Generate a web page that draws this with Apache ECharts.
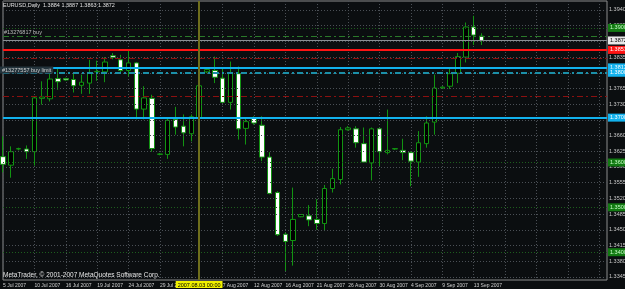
<!DOCTYPE html>
<html>
<head>
<meta charset="utf-8">
<title>EURUSD Daily</title>
<script src="https://cdn.jsdelivr.net/npm/echarts@6/dist/echarts.min.js"></script>
<style>
  html, body { margin: 0; padding: 0; background: #0b0e10; }
  #chart { width: 625px; height: 289px; }
</style>
</head>
<body>
<div id="chart"></div>
<script>
  // bar dates (daily, broker has sunday bars) + empty future slots
  const dates = [
    '2007.07.05', '2007.07.06', '2007.07.08', '2007.07.09', '2007.07.10', '2007.07.11', '2007.07.12', '2007.07.13',
    '2007.07.15', '2007.07.16', '2007.07.17', '2007.07.18', '2007.07.19', '2007.07.20', '2007.07.22', '2007.07.23',
    '2007.07.24', '2007.07.25', '2007.07.26', '2007.07.27', '2007.07.29', '2007.07.30', '2007.07.31', '2007.08.01',
    '2007.08.02', '2007.08.03', '2007.08.05', '2007.08.06', '2007.08.07', '2007.08.08', '2007.08.09', '2007.08.10',
    '2007.08.12', '2007.08.13', '2007.08.14', '2007.08.15', '2007.08.16', '2007.08.17', '2007.08.19', '2007.08.20',
    '2007.08.21', '2007.08.22', '2007.08.23', '2007.08.24', '2007.08.26', '2007.08.27', '2007.08.28', '2007.08.29',
    '2007.08.30', '2007.08.31', '2007.09.02', '2007.09.03', '2007.09.04', '2007.09.05', '2007.09.06', '2007.09.07',
    '2007.09.09', '2007.09.10', '2007.09.11', '2007.09.12', '2007.09.13', '2007.09.14',
    '2007.09.16', '2007.09.17', '2007.09.18', '2007.09.19', '2007.09.20', '2007.09.21', '2007.09.23', '2007.09.24',
    '2007.09.25', '2007.09.26', '2007.09.27', '2007.09.28', '2007.09.30', '2007.10.01', '2007.10.02', '2007.10.03'
  ]

  // one label every 4 bars
  const xTickLabels = [
    '5 Jul 2007', '10 Jul 2007', '16 Jul 2007', '19 Jul 2007', '24 Jul 2007', '29 Jul 2007', '2 Aug 2007',
    '7 Aug 2007', '12 Aug 2007', '16 Aug 2007', '21 Aug 2007', '26 Aug 2007', '30 Aug 2007', '4 Sep 2007',
    '9 Sep 2007', '13 Sep 2007'
  ]

  const yTicks = [
    1.3345, 1.3380, 1.3415, 1.3450, 1.3485, 1.3520, 1.3555, 1.3590, 1.3625,
    1.3660, 1.3695, 1.3730, 1.3765, 1.3800, 1.3835, 1.3870, 1.3905, 1.3940
  ]

  const opens = [
    1.3613, 1.3594, 1.3630, 1.3630, 1.3624, 1.3743, 1.3742, 1.3787, 1.3787, 1.3785,
    1.3772, 1.3777, 1.3802, 1.3802, 1.3838, 1.3829, 1.3805, 1.3822, 1.3719, 1.3743,
    1.3618, 1.3618, 1.3696, 1.3681, 1.3664, 1.3699, 1.3802, 1.3805, 1.3788, 1.3734,
    1.3798, 1.3676, 1.3699, 1.3683, 1.3612, 1.3533, 1.3440, 1.3426, 1.3479, 1.3481,
    1.3473, 1.3464, 1.3542, 1.3562, 1.3673, 1.3675, 1.3642, 1.3599, 1.3675, 1.3622,
    1.3630, 1.3627, 1.3622, 1.3601, 1.3642, 1.3690, 1.3766, 1.3770, 1.3799, 1.3835,
    1.3902, 1.3882
  ]
  const closes = [
    1.3596, 1.3624, 1.3631, 1.3624, 1.3744, 1.3746, 1.3786, 1.3780, 1.3784, 1.3771,
    1.3779, 1.3799, 1.3803, 1.3824, 1.3834, 1.3805, 1.3822, 1.3719, 1.3744, 1.3631,
    1.3619, 1.3694, 1.3679, 1.3666, 1.3702, 1.3771, 1.3807, 1.3790, 1.3734, 1.3799,
    1.3675, 1.3691, 1.3688, 1.3612, 1.3531, 1.3439, 1.3424, 1.3473, 1.3484, 1.3472,
    1.3464, 1.3542, 1.3564, 1.3673, 1.3677, 1.3644, 1.3601, 1.3675, 1.3624, 1.3627,
    1.3631, 1.3622, 1.3603, 1.3644, 1.3688, 1.3766, 1.3768, 1.3798, 1.3836, 1.3902,
    1.3884, 1.3872
  ]
  const lows = [
    1.3578, 1.3566, 1.3627, 1.3608, 1.3593, 1.3729, 1.3736, 1.3762, 1.3782, 1.3756,
    1.3753, 1.3753, 1.3782, 1.3779, 1.3830, 1.3799, 1.3792, 1.3696, 1.3696, 1.3624,
    1.3616, 1.3608, 1.3662, 1.3636, 1.3647, 1.3696, 1.3799, 1.3777, 1.3733, 1.3718,
    1.3651, 1.3640, 1.3684, 1.3603, 1.3529, 1.3436, 1.3358, 1.3370, 1.3478, 1.3458,
    1.3450, 1.3447, 1.3533, 1.3551, 1.3671, 1.3633, 1.3599, 1.3560, 1.3592, 1.3618,
    1.3628, 1.3605, 1.3547, 1.3568, 1.3633, 1.3662, 1.3764, 1.3764, 1.3777, 1.3823,
    1.3862, 1.3862
  ]
  const highs = [
    1.3658, 1.3636, 1.3633, 1.3638, 1.3746, 1.3781, 1.3808, 1.3810, 1.3789, 1.3799,
    1.3796, 1.3829, 1.3827, 1.3835, 1.3844, 1.3840, 1.3851, 1.3824, 1.3770, 1.3751,
    1.3621, 1.3699, 1.3724, 1.3707, 1.3707, 1.3773, 1.3810, 1.3836, 1.3810, 1.3825,
    1.3814, 1.3699, 1.3703, 1.3703, 1.3623, 1.3536, 1.3444, 1.3544, 1.3485, 1.3505,
    1.3518, 1.3550, 1.3586, 1.3679, 1.3681, 1.3681, 1.3678, 1.3678, 1.3677, 1.3718,
    1.3632, 1.3653, 1.3625, 1.3670, 1.3703, 1.3796, 1.3770, 1.3810, 1.3844, 1.3912,
    1.3927, 1.3888
  ]

  const bidPrice = 1.3872
  const cursorDate = '2007.08.03'

  const small = '"Liberation Sans", Arial, sans-serif'
  const candleGreen = '#129412'

  const ohlc = opens.map((o, i) => [o, closes[i], lows[i], highs[i]])

  // price box on the right price scale
  function priceLabel(bg, fg) {
    return {
      show: true,
      position: 'end',
      distance: 1,
      formatter: p => p.value.toFixed(4),
      color: fg,
      backgroundColor: bg,
      padding: [1, 3, 0, 2],
      fontSize: 5.5,
      fontFamily: small,
      lineHeight: 7
    }
  }

  const chart = echarts.init(document.getElementById('chart'))
  chart.setOption({
    backgroundColor: '#0b0e10',
    animation: false,
    grid: {
      left: 2,
      right: 18,
      top: 1,
      bottom: 8,
      show: true,
      borderColor: '#8c8c8c',
      borderWidth: 1,
      backgroundColor: 'transparent'
    },
    xAxis: {
      type: 'category',
      data: dates,
      boundaryGap: false,
      axisLine: { show: false },
      axisTick: { show: false },
      axisLabel: {
        interval: 3,
        align: 'left',
        margin: 2,
        fontSize: 5,
        lineHeight: 7,
        fontFamily: small,
        color: '#d0d0d0',
        formatter: (v, i) => xTickLabels[i / 4] || ''
      },
      splitLine: {
        show: true,
        interval: 3,
        lineStyle: { color: '#4b5056', type: [1, 2], width: 1 }
      }
    },
    yAxis: {
      type: 'value',
      position: 'right',
      min: 1.3338,
      max: 1.3960,
      axisLine: { show: false },
      axisTick: { show: false },
      axisLabel: { show: false },
      splitLine: { show: false }
    },
    graphic: [
      {
        type: 'text',
        left: 3,
        top: 2,
        z: 20,
        style: {
          text: 'EURUSD,Daily  1.3884 1.3887 1.3863 1.3872',
          fill: '#e0e0e0',
          font: '5.5px ' + small
        }
      },
      {
        type: 'text',
        left: 3,
        top: 272,
        z: 20,
        style: {
          text: 'MetaTrader, © 2001-2007 MetaQuotes Software Corp.',
          fill: '#e8e8e8',
          font: '6.5px ' + small
        }
      }
    ],
    series: [
      {
        // price grid + right scale labels
        name: 'grid',
        type: 'line',
        data: [],
        z: 1,
        silent: true,
        markLine: {
          silent: true,
          symbol: 'none',
          precision: 4,
          animation: false,
          lineStyle: { color: '#4b5056', type: [1, 2], width: 1 },
          label: {
            show: true,
            position: 'end',
            distance: 2,
            formatter: p => p.value.toFixed(4),
            color: '#c8c8c8',
            fontSize: 5.5,
            fontFamily: small
          },
          data: yTicks.map(v => ({ yAxis: v }))
        }
      },
      {
        name: 'EURUSD',
        type: 'candlestick',
        data: ohlc,
        z: 3,
        barWidth: 5,
        itemStyle: {
          color: '#000000',
          color0: '#ffffff',
          borderColor: candleGreen,
          borderColor0: candleGreen,
          borderWidth: 1
        }
      },
      {
        // horizontal objects, order lines, bid line, cursor
        name: 'levels',
        type: 'line',
        data: [],
        z: 5,
        silent: true,
        markLine: {
          silent: true,
          symbol: 'none',
          precision: 4,
          animation: false,
          data: [
            { yAxis: 1.3900, lineStyle: { color: '#1d5e1d', type: [1, 2], width: 1 }, label: priceLabel('#127a12', '#c8ffc8') },
            { yAxis: 1.3600, lineStyle: { color: '#1d5e1d', type: [1, 2], width: 1 }, label: priceLabel('#127a12', '#c8ffc8') },
            { yAxis: 1.3500, lineStyle: { color: '#1d5e1d', type: [1, 2], width: 1 }, label: priceLabel('#127a12', '#c8ffc8') },
            { yAxis: 1.3400, lineStyle: { color: '#1d5e1d', type: [1, 2], width: 1 }, label: priceLabel('#127a12', '#c8ffc8') },
            {
              yAxis: 1.3882,
              lineStyle: { color: '#2a7a2a', type: [6, 3, 2, 3], width: 1 },
              label: {
                show: true, position: 'insideStartTop', distance: 1,
                formatter: '#13276817 buy', color: '#bfbfbf', fontSize: 5.5, fontFamily: small
              }
            },
            { yAxis: bidPrice, lineStyle: { color: '#8a8f94', type: 'solid', width: 1 }, label: priceLabel('#e8e8e8', '#000000') },
            { yAxis: 1.3851, lineStyle: { color: '#ff1414', type: 'solid', width: 2 }, label: priceLabel('#ff1414', '#ffffff') },
            { yAxis: 1.3832, lineStyle: { color: '#8c1010', type: [6, 3, 2, 3], width: 1 }, label: { show: false } },
            { yAxis: 1.3747, lineStyle: { color: '#8c1010', type: [6, 3, 2, 3], width: 1 }, label: { show: false } },
            { yAxis: 1.3812, lineStyle: { color: '#12b2ee', type: 'solid', width: 2 }, label: priceLabel('#12b2ee', '#ffffff') },
            { yAxis: 1.3800, lineStyle: { color: '#1b8fa8', type: [6, 3, 2, 3], width: 2 }, label: priceLabel('#12b2ee', '#ffffff') },
            {
              yAxis: 1.3805,
              lineStyle: { color: 'rgba(0,0,0,0)', width: 0 },
              label: {
                show: true, position: 'insideStartTop', distance: -3,
                formatter: '#13277557 buy limit', color: '#d0d0d0', fontSize: 5.5, fontFamily: small,
                backgroundColor: '#24343c', padding: [1, 2, 0, 2]
              }
            },
            { yAxis: 1.3700, lineStyle: { color: '#12b2ee', type: 'solid', width: 2 }, label: priceLabel('#12b2ee', '#ffffff') },
            {
              xAxis: cursorDate,
              lineStyle: { color: '#6e6e1c', type: 'solid', width: 2 },
              label: {
                show: true,
                position: 'start',
                distance: 1,
                formatter: '2007.08.03 00:00',
                color: '#000000',
                backgroundColor: '#f0f000',
                padding: [1, 2, 0, 2],
                fontSize: 5.5,
                fontFamily: small
              }
            }
          ]
        }
      }
    ]
  })
</script>
</body>
</html>
